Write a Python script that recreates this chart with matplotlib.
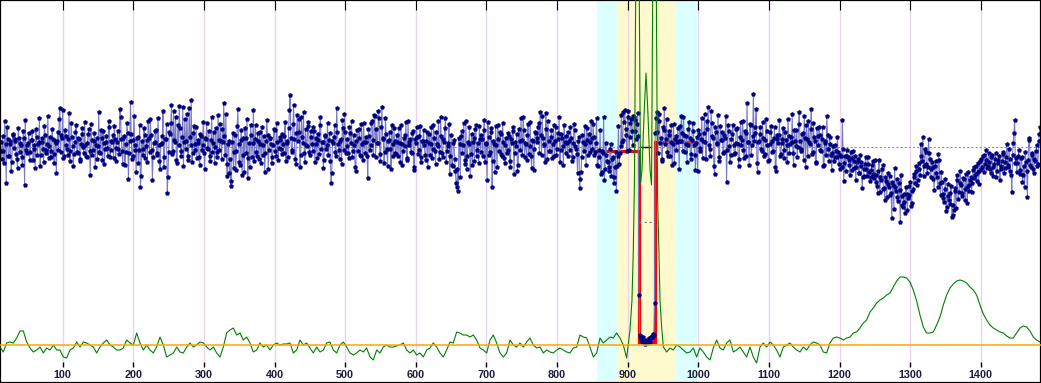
import numpy as np
import matplotlib
matplotlib.use("Agg")
import matplotlib.pyplot as plt
import matplotlib.transforms as mtransforms

plt.rcParams['font.family'] = ['Liberation Sans', 'DejaVu Sans']

# ---------------- data ----------------
# time axis (minutes): even samples 12..1484, odd samples 13..1483
even_start, even_stop = 12, 1484
odd_start, odd_stop = 13, 1483

# relative flux in ppt at even minutes, rows of 20 samples
flux_base = [
    0.5, -1.2, -0.4, 2.6, -3.6, 0.8, -0.9, 0.3, -1.5, 1.2, 0.6, -0.7, -2.1, 0.9, 0.4, -1.0, 1.6, -3.8, -0.3, 0.2,
    1.4, -0.5, 0.7, -1.3, 0.2, 1.8, -0.8, 0.5, -1.9, 0.9, -0.2, 2.1, -0.6, 0.3, -1.1, 1.0, -0.4, 0.8, -1.6, 0.4,
    0.6, -0.3, 3.9, 1.2, 3.7, -0.9, 1.1, -0.2, 0.8, -1.4, 2.4, 0.1, -0.7, 1.5, -0.5, 0.9, -1.2, 0.3, 1.9, -0.6,
    0.2, -1.0, 1.3, -0.4, 2.3, -0.8, 0.6, -2.0, 0.9, 0.1, -0.5, 1.7, -1.3, 0.4, -0.2, 1.1, -0.9, 2.6, -0.3, 0.5,
    -1.1, 0.8, -0.1, 1.6, -0.7, 3.0, -0.4, 0.9, -1.8, 0.3, 1.4, -0.6, 4.5, -1.2, 0.7, 0.2, -2.5, 1.0, -0.3, -4.0,
    0.6, -0.8, 1.2, 0.1, -1.5, 0.9, 2.8, -0.3, -1.0, 0.5, 1.7, -0.6, 0.2, -2.2, 0.4, 3.6, -1.0, 0.8, -4.6, -0.5,
    1.3, 4.2, -0.4, 0.7, 3.0, -1.6, 0.2, 1.9, -0.9, 4.0, 0.5, -0.2, 3.3, -1.3, 1.0, 4.7, -0.6, 2.1, 0.3, -1.1,
    0.4, -1.8, 1.1, 0.2, -0.6, 0.9, 2.4, -0.2, -1.4, 0.7, -0.5, 1.5, 0.0, -1.0, 3.2, -0.3, 0.6, 1.8, 4.4, -0.8,
    -1.7, 0.3, -2.6, -3.9, 0.5, -2.1, 1.2, -0.4, 3.8, -1.5, 0.7, -2.8, 0.9, 1.9, -0.6, -3.1, 0.4, 2.2, -1.0, 3.7,
    0.8, -0.5, 1.4, -1.2, 0.3, 2.0, -0.8, -2.5, 0.6, 1.2, -0.3, 0.9, -1.6, 0.2, 1.7, -0.9, 0.5, -0.1, 1.0, -0.7,
    0.3, 1.1, -1.4, 0.6, 1.9, 5.2, -0.5, 2.3, 0.8, -1.7, 3.2, 1.5, -2.0, 3.0, 0.4, -0.6, 1.8, 0.1, 2.5, -0.8,
    1.0, -0.4, 1.6, 0.3, -1.1, 0.7, 2.2, -0.2, 0.5, -1.3, 1.2, 0.2, -0.8, 1.4, -3.6, 0.6, 1.0, -0.5, 3.9, 0.3,
    -1.2, 0.8, 2.7, -0.3, 1.5, 0.1, -0.6, 2.0, 0.4, -1.0, 1.2, -2.0, 0.6, -0.4, 1.8, -0.9, 0.3, 2.4, -0.6, 0.5,
    -3.1, 1.1, 0.2, 2.6, -0.8, 3.1, 1.8, 0.4, 2.9, -1.4, 4.0, 0.9, -0.5, 1.3, -1.9, 0.7, -0.2, 2.2, -0.9, 0.6,
    -0.7, 0.5, 1.9, -1.5, 0.3, -0.4, 1.2, 2.5, -1.1, 0.2, 0.8, -0.6, 1.6, -2.3, 0.4, 1.0, -0.3, 2.1, -1.0, 0.6,
    0.2, -1.3, 1.5, 0.4, -0.8, 2.0, -0.2, 0.9, -1.7, 0.3, 2.6, -0.5, 1.1, -1.0, 0.5, 2.9, -0.4, 0.1, -2.7, 1.2,
    -1.9, 0.7, -2.4, -4.0, -4.4, 0.3, 1.1, -0.6, 2.4, -1.3, -2.2, 0.5, 2.0, -0.7, -1.8, 0.9, 1.8, -0.9, 0.4, 2.1,
    -0.5, 0.8, 1.7, -1.5, 0.3, 2.5, -0.8, 1.5, -4.0, 0.6, -2.5, 0.2, 2.2, -0.4, 1.3, -0.9, 0.5, -1.6, 0.9, -0.3,
    1.1, -2.0, 0.4, 1.6, -0.6, 0.1, -2.4, 1.8, -0.3, 0.7, 3.0, -1.0, 0.3, 1.2, -0.7, 2.5, -2.1, 0.6, -0.2, 1.4,
    0.5, 2.4, 3.5, -0.8, 0.9, 0.2, 3.4, -1.2, 0.6, -0.4, 1.7, 0.3, -0.9, 2.0, -0.2, 0.8, -1.5, 1.3, 0.1, 2.2,
    -0.6, 0.4, 1.5, -0.3, 0.9, -1.0, 2.3, 0.1, -0.7, 0.6, -4.1, -2.5, 1.2, -0.4, 0.3, 1.9, -0.8, 0.5, 2.6, -0.2,
]
flux_transit = [
    1.0, -0.5, 2.9, -1.9, -1.0, -2.7, -0.4, 3.0, -2.2, -0.8, -1.5, -2.4, 0.3, -1.2, -3.0, -2.0, -4.4, -0.9, -1.7, 0.1,
    0.5, 3.5, 3.7, 1.2, 3.0, -0.3, 2.4, 1.6, 3.1, 2.7, 0.8, 3.4, -14.8, -18.9, -19.4, -19.0, -19.6, -19.3, -19.5, -19.1,
    -19.2, -18.9, -18.7, -15.6, 2.9, 1.5, 3.3, 0.4, -1.2, 2.0, 3.9, 0.8, -0.5, 1.6, -0.9, 2.2, 0.3, -1.6, 1.1, 0.5,
]
flux_after = [
    0.6, 2.1, 3.1, -0.4, 1.2, 0.3, -1.5, 1.8, 0.9, -0.7, 2.4, 0.2, -2.3, 1.0, 1.7, -0.1, 0.8, -1.1, 1.4, 0.5,
    2.6, 4.0, -0.2, 3.6, 1.1, -1.9, 2.0, 0.4, 3.2, -1.4, 0.7, 1.5, -0.5, 0.9, -3.5, 2.2, 0.1, -0.8, 1.3, 0.2,
    -0.6, 1.8, 0.3, -1.2, 2.5, 0.7, -0.3, 1.6, -0.9, 0.5, -1.8, 2.2, 0.2, 5.3, 1.4, 3.8, -2.5, 0.6, 2.0, -0.4,
    0.9, -0.7, 2.8, 0.2, -1.3, 1.5, 0.6, -0.4, 2.0, -2.4, 0.8, 1.2, -0.9, 0.4, 1.9, -0.3, 0.7, -1.5, 1.1, 0.3,
    0.5, -0.6, 1.7, 0.1, -1.0, 2.3, 0.6, -0.2, 1.4, 3.1, -2.0, 0.8, 2.6, 0.3, 3.8, -0.5, 1.0, -1.6, 1.9, 0.2,
    1.2, -0.4, 2.0, -1.8, 0.6, 3.1, -0.2, 1.0, -0.8, -0.6, -1.4, 0.2, -1.0, -0.5, -2.2, -0.9, 2.7, -3.4, -0.9, -0.3,
]
flux_dips = [
    -1.0, -1.8, -0.5, -2.3, -1.4, -0.9, -2.0, -1.2, -2.6, -1.5, -4.1, -2.9, -1.7, -2.2, -1.0, -2.5, -3.0, -1.8, -2.7, -1.3,
    -3.5, -4.6, -1.3, -3.0, -2.2, -4.2, -5.3, -3.4, -2.6, -4.0, -4.8, -7.1, -3.8, -2.1, -4.4, -5.0, -3.6, -7.5, -4.9, -6.0,
    -5.5, -4.0, -6.3, -4.8, -3.5, -5.6, -4.2, -3.0, -2.4, -3.8, -1.6, -2.8, -0.9, 1.0, -1.9, -0.5, -2.6, 0.8, -1.2, -2.2,
    -2.0, -4.3, -1.4, -3.0, -0.7, -3.6, -2.5, -4.7, -5.5, -3.2, -6.0, -4.9, -5.7, -3.9, -6.8, -6.3, -4.4, -2.8, -5.2, -3.6,
    -3.8, -4.6, -3.2, -5.3, -4.0, -2.5, -4.4, -3.0, -3.6, -2.0, -2.8, -3.4, -1.6, -2.4, -1.2, -2.0, -0.8, -1.7, -0.3, -1.9,
    -1.5, -2.6, -0.8, -2.0, -1.2, -3.0, -1.6, -0.9, -2.2, -1.4, -0.5, -2.1, -1.0, -1.8, -0.2, -2.4, -4.5, 0.4, 2.7, -1.1,
    -1.6, -0.3, -2.3, -1.0, -2.8, -4.0, -1.5, -5.0, 0.7, -1.8, -0.6, -2.2, -1.2, -0.4, -1.9, 0.6, 2.0,
]

# relative flux in ppt at odd minutes
flux_odd_base = [
    -0.4, 1.1, -1.6, 0.3, 2.0, -0.9, 0.6, -2.4, 1.3, -0.1, 0.8, -1.2, 1.9, -0.5, 0.2, -1.8, 0.9, 2.7, -0.6, 0.4,
    -1.3, 0.7, 1.6, -0.2, -2.1, 1.0, 0.3, 2.9, -0.8, 0.5, -1.5, 1.2, -0.3, 3.1, 0.1, -1.0, 1.8, -0.7, 0.6, -2.6,
    1.5, 2.8, -0.5, 0.9, -1.1, 1.7, 0.2, -0.8, 3.4, -0.4, 1.0, -1.9, 0.5, 2.2, -0.6, 0.8, -1.4, 1.3, 0.0, 2.5,
    -0.9, 0.4, 1.8, -2.8, 0.7, -0.3, 1.4, 0.2, -1.2, 3.5, -0.6, 0.9, 1.6, -1.7, 0.5, -0.1, 2.0, -1.0, 0.6, 1.2,
    2.1, -1.4, 0.5, -0.2, 3.8, 0.8, -1.7, 1.1, -0.5, 2.4, -3.2, 0.6, 1.3, -0.9, 3.1, -0.3, 0.9, -1.6, 2.2, -2.9,
    -0.2, 1.9, -1.1, 0.7, 2.6, -0.5, 1.2, -3.3, 0.4, 1.6, -0.8, 2.9, -1.4, 0.3, 1.1, -2.0, 0.8, 2.3, -3.0, 1.5,
    2.4, -0.7, 3.6, 0.5, -1.3, 2.2, 4.1, -0.4, 1.0, -1.9, 2.8, 0.6, -0.9, 3.9, 0.2, -1.5, 1.4, -0.3, 2.0, 0.7,
    -1.0, 1.3, -0.3, 2.5, -2.2, 0.8, -0.1, 1.6, -0.9, 3.0, 0.4, -1.6, 1.9, -0.5, 0.7, 2.3, -1.2, 0.5, 1.1, 3.3,
    -2.9, 0.6, -1.2, -3.4, 1.4, -0.5, -2.3, 2.1, 0.3, -1.8, 1.7, -0.8, -2.5, 0.9, 2.8, -1.1, -2.0, 1.2, 0.4, -1.4,
    2.2, -0.9, 0.6, 1.5, -1.6, 0.2, 1.1, -0.6, 2.7, -2.2, 0.9, 0.3, -1.0, 1.8, -0.4, 2.4, -1.3, 0.7, -0.2, 1.3,
    -0.6, 2.5, 0.4, -1.0, 3.7, 0.9, -0.3, 4.2, -1.2, 1.4, 0.6, 2.8, -0.8, 1.0, 3.5, -1.5, 0.2, 2.1, -0.5, 1.6,
    0.3, 2.0, -1.5, 0.9, 1.3, -0.7, 3.0, 0.5, -2.1, 1.1, -0.2, 2.4, 0.7, -1.4, -2.6, 0.4, 2.2, -0.9, 1.5, -0.3,
    0.6, -1.7, 1.9, 3.3, -0.6, 0.8, -1.1, 1.4, 2.6, -0.4, 0.2, -2.4, 1.7, 0.9, -0.8, 2.3, -1.3, 0.5, 1.0, -0.9,
    1.8, -0.3, 2.4, 0.7, 3.2, -1.0, 0.4, 3.6, -0.7, 2.0, 0.8, -1.6, 2.9, -0.2, 0.6, 1.5, -2.2, 0.3, 1.9, -0.6,
    1.2, -0.9, 0.4, 2.2, -1.8, 0.9, 0.1, -1.3, 2.6, 0.5, -0.5, 1.4, -2.0, 0.8, 2.0, -0.7, 1.1, -1.5, 0.6, 1.7,
    -0.8, 0.6, -2.0, 1.3, 0.3, -1.1, 2.2, -0.4, 1.5, 0.1, -1.2, 3.0, -0.6, 0.8, 1.9, -1.5, 0.4, 2.3, -0.9, -1.8,
    0.4, -1.2, -3.6, -2.2, 0.9, -3.0, 1.6, 0.2, -1.7, 2.6, -0.9, 0.3, -2.9, 1.3, 0.5, -1.4, 2.2, -0.3, -1.6, 0.8,
    1.2, -0.9, 2.7, 0.4, -3.3, 1.0, -0.5, 1.9, -1.4, 0.3, 2.1, -2.0, 0.8, 1.5, -0.7, 2.4, -1.1, 0.2, -0.6, 1.4,
    -1.4, 0.8, 2.0, -2.7, 0.5, 1.3, -1.8, 0.6, 2.9, -0.8, 1.7, 0.4, -1.3, 2.3, 0.1, -0.9, 0.7, -2.3, 1.5, 0.9,
    2.0, -0.6, 1.2, 3.1, 0.3, -1.5, 1.8, 2.6, -0.4, 1.0, -1.1, 2.2, 0.6, -0.8, 1.4, 3.0, -0.3, 0.9, -1.8, 0.5,
    1.1, -0.9, 0.6, 2.0, -1.4, 0.4, 1.7, -0.2, -2.6, 1.0, -3.2, -1.0, 0.5, 2.1, -1.8, 0.7, 1.3, -0.5, 0.9, 2.3,
    -0.8, 0.4,
]
flux_odd_transit = [
    -1.8, -0.3, 1.7, -2.5, -0.6, -3.3, 0.4, -1.4, -2.0, -0.2, -2.9, -1.0, -3.6, -0.5, -1.9,
    2.1, -0.6, 3.2, 0.7, 2.5, 1.8, -0.4, 3.6, 1.0, 2.8, 0.2, 3.0, 1.6, 2.3, 1.1,
    -18.8, -19.2, -19.5, -19.3, -19.7, -19.6, -19.4, -19.5, -19.0, -19.1, -18.8,
    1.4, 3.5, -0.6, 2.6, 0.9, -1.4, 1.7, 0.3, 2.8, -0.9, 1.2, 0.5, -1.8, 2.3, 0.8, -0.3,
    1.9, -2.2, 0.6, 1.4, 3.0, -0.5, 1.1, 0.2, 2.5, -1.2, 0.7, 1.6, -0.8, 0.4, -2.4,
]
flux_odd_after = [
    1.3, -0.4, 2.9, 0.6, 3.3, -1.2, 1.8, 0.2, -0.9, 2.4, 0.9, -2.7, 1.5, 0.3, -1.0, 2.1, 0.7, -0.6, 1.2, 3.1,
    -0.3, 1.6, -1.5, 0.8, 2.2, -0.7, 0.4, 1.9, -1.9, 1.0, 0.2, 2.6, -1.1, 1.4, 4.4, 0.5, 2.3, -0.8, 1.1, 0.6,
    2.0, -1.6, 0.5, 1.3, -0.2, 2.5, -0.9, 0.7, 1.6, -1.4, 0.3, 2.1, -0.5, 0.9, -2.0, 1.2, 0.4, 2.7, -0.7, 0.8,
    -1.1, 1.5, 0.2, 2.8, -0.6, 1.0, 3.3, -1.8, 0.6, 1.7, 0.0, 3.5, -0.4, 1.3, -1.3, 0.9, 2.2, -0.9, 0.5, 1.8,
    -0.7, 2.4, 0.6, -1.5, 1.1, 2.0, -0.3, 0.8, -1.9, 0.4, -0.8, 1.2, -1.4, 0.3, -2.3, 0.1, -1.0, -0.4, 1.0, -1.7,
]
flux_odd_dips = [
    -0.8, -2.0, -0.2, -1.6, -2.4, -0.9, -1.3, -2.8, -1.1, -0.4, -2.1, -3.3, -1.5, -2.6, -0.8, -1.9, -3.0, -2.2, -1.0, -2.9,
    -1.7, -3.4, -2.3, -1.4, -3.1,
    -2.8, -3.9, -2.4, -4.5, -3.3, -1.8, -4.1, -3.0, -5.0, -3.7, -2.9, -4.6, -3.5, -6.2, -4.0, -3.2, -5.4, -4.3, -2.8, -5.8,
    -4.7,
    -6.6, -4.7, -5.1, -3.9, -5.9, -4.4, -2.7, -3.6, -1.9, -3.3, -2.2, 0.3, -1.4, -2.9, -0.2, -1.7, -2.0, -0.6, -3.0, -1.5,
    -3.2, -1.9, -2.6, -4.0, -1.3, -4.8, -3.5, -5.1, -4.2, -6.4, -3.7, -5.3, -4.6, -7.0, -5.8, -4.1, -6.1, -3.3, -4.5, -2.4,
    -4.9, -3.1, -4.2, -2.7, -5.6, -3.8, -3.3, -4.5, -2.3, -3.1, -1.9, -2.6, -3.7, -1.4, -2.2, -0.9, -2.5, -1.3, -2.1, -0.6,
    -2.2, -1.0, -2.9, -1.7, -0.6, -2.4, -1.3, -3.3, -1.9, -0.7, -2.6, -1.5, 0.3, -2.0, -1.2, -2.8, -0.8, 1.4, -1.6, -2.5,
    -0.9, -2.7, -1.1, -3.5, -1.9, -0.5, -2.4, -1.3, 0.9, -2.0, -0.8, -2.6, -1.4, 0.2, -1.7, 1.3,
]

# box transit model
model_t = [856.6, 915.5, 915.5, 938.0, 938.0, 997.0]
model_f = [-0.4, -0.4, -19.5, -19.5, 0.5, 0.5]
mid_t = [918.4, 931.6]          # short black marker at reference level
mid_f = 0.0
half_t = [916.0, 936.0]         # half-depth marker
half_f = -7.47

# highlighted windows
window_outer = (856.6, 998.2)
window_inner = (885.5, 967.5)

# diagnostic (green) curve, arbitrary units; uniform grid + transit detail
green_x0, green_dx = 11.2, 4.72
green_pre = [
    -2, -7, 2, 3, 2, 7, 14, 14, 3, -3, -7, -5, -2, -8, -3, -5, 0, -5, -5, -12,
    -13, -5, -3, 3, -2, 3, 2, 0, -2, -8, -2, 2, 5, 0, -2, -5, -5, -3, 5, 2,
    0, 12, 2, -5, 0, -5, -8, -2, 8, 0, -12, -10, -8, -2,
    -7, -8, -2, 2, -2, 0, 3, 2, -2, -5, -2, -8, -12, -2, 12, 15, 17, 10, 12, 5,
    8, 2, -7, -5, 2, -2, 0, -5, 0, 2, 0, 1, 1, 2, -8, -5, 5, 0, 2, -3,
    -8, -2, -7, -5, 2, 3, -5, -8, 0, 3, -2, -8, -10, -8,
    -5, -7, -3, -12, -15, -5, -8, -2, 0, -2, -2, -1, 0, 2, -5, -8, -5, -10, -8, -12,
    -5, -3, 2, -2, -8, -12, -5, 3, 2, 13, 12, 10, 10, 8, 10, 5, -3, -5, -8, 5,
    10, 2, -8, -12, -8, 5, 0, -2, 2, -2, 3, 7, 0, -3,
    -2, -8, -5, -7, -8, -5, -3, -5, -7, -8, -3, -2, 10, 8, 7, -2, -12, -8, 7, 2,
    5, 8, 7, 12, 7, 0, -13,
]
green_transit_x = [903.3, 906.1, 908.0, 909.7, 911.8, 913.9, 916.0, 918.2, 920.3, 923.2, 926.0,
                   928.8, 931.7, 933.8, 935.9, 938.0, 940.2, 942.3, 944.4, 945.8, 947.9, 950.5]
green_transit_y = [15, 45, 95, 170, 400, 520, 400, 162, 175, 230, 272,
                   230, 175, 160, 400, 520, 400, 150, 90, 45, 20, -2]
green_post_i0 = 200
green_post = [
    -7, -3, -5, 0, -2, -5, -8, -7, -3, -12, -3, -7, -12, -15,
    -3, 5, -3, -5, 2, 5, -7, -5, -2, -7, -12, -2, -12, -18, -2, 2, -2, 3, 0, -5,
    -12, -2, 0, 2, -2, -5, -7, -2, -5, 0, 3, 2, 0, -7, -8, 2, 7, 8, 7, 5,
    7, 8, 12, 13, 17, 22, 25,
    33, 37, 42, 45, 47, 50, 52, 58, 64, 68, 68, 67, 63, 55, 44, 30, 18, 12, 12, 13,
    20, 28, 40, 50, 57, 61, 64, 65, 64, 62, 58, 55, 50, 40, 31, 25, 20, 17, 15, 13,
    12, 9, 7, 7, 12, 17, 19, 18, 14, 8, 5, 3,
]

xticks = [100, 200, 300, 400, 500, 600, 700, 800, 900, 1000, 1100, 1200, 1300, 1400]
xticklabels = [str(v) for v in xticks]

# ---------------- figure ----------------
W, H = 1041, 383
fig = plt.figure(figsize=(W / 100, H / 100), dpi=100)
ax = fig.add_axes([0, 0, 1, 1])
ax.set_xlim(11.2, 1485.3)
ax.set_ylim(-23.6, 14.7)
ax.set_facecolor('white')

trans = mtransforms.blended_transform_factory(ax.transData, ax.transAxes)
px = 1 / H  # one pixel in axes-fraction units

# windows
ax.axvspan(*window_outer, color='#dcffff', lw=0, zorder=0)
ax.axvspan(*window_inner, color='#fffacd', lw=0, zorder=0.1)

# vertical grid lines (stop above the tick-label band)
ax.vlines(xticks, 21 * px, 1, transform=trans, colors='#ecd3ee', lw=1.0, zorder=0.5)
# small bottom tick marks
ax.vlines(xticks, 16 * px, 21 * px, transform=trans, colors='black', lw=1.0, zorder=5)

# reference level
ax.axhline(0, color='#8c8c8c', lw=0.75, ls=(0, (2, 2)), zorder=1)

# model
ax.plot(model_t, model_f, color='#ff0000', lw=2.3, zorder=2, solid_joinstyle='miter')
ax.plot(mid_t, [mid_f, mid_f], color='black', lw=1.0, zorder=2.5)
ax.plot(half_t, [half_f, half_f], color='#8c8c8c', lw=0.9, ls=(0, (2, 2)), zorder=2.5)

# data: merge even and odd samples into one time-ordered series
t_even = np.arange(even_start, even_stop + 1, 2)
t_odd = np.arange(odd_start, odd_stop + 1, 2)
f_even = np.concatenate([flux_base, flux_transit, flux_after, flux_dips])
f_odd = np.concatenate([flux_odd_base, flux_odd_transit, flux_odd_after, flux_odd_dips])
time = np.concatenate([t_even, t_odd])
flux = np.concatenate([f_even, f_odd])
order = np.argsort(time)
time, flux = time[order], flux[order]
ax.plot(time, flux, color='#7878c4', lw=0.75, zorder=3)
ax.plot(time, flux, ls='none', marker='p', ms=3.4, mfc='#000080', mec='#000080', mew=0.2, zorder=4)

# green diagnostic on its own scale
ax2 = ax.twinx()
ax2.set_ylim(-38, 345)
ax2.set_axis_off()
n_pre = len(green_pre)
gx = np.concatenate([green_x0 + green_dx * np.arange(n_pre),
                     np.array(green_transit_x),
                     green_x0 + green_dx * (green_post_i0 + np.arange(len(green_post)))])
gy = np.concatenate([green_pre, green_transit_y, green_post])
ax2.plot(gx, gy, color='#008000', lw=0.8, zorder=3)
ax2.axhline(0, color='#ffa500', lw=1.1, zorder=4)
ax2.set_xlim(ax.get_xlim())

# ticks and labels
ax.set_xticks(xticks)
ax.set_xticklabels(xticklabels, fontsize=7.8, fontweight='bold', color='#1c1c40')
ax.tick_params(axis='x', which='major', direction='in', length=7.2, width=0.8,
               top=True, bottom=False, labelbottom=True, pad=-9.5, color='black')
ax.set_yticks([])
for s in ax.spines.values():
    s.set_color('black')
    s.set_linewidth(1.6)
    s.set_zorder(10)

fig.savefig('out.png', dpi=100)
